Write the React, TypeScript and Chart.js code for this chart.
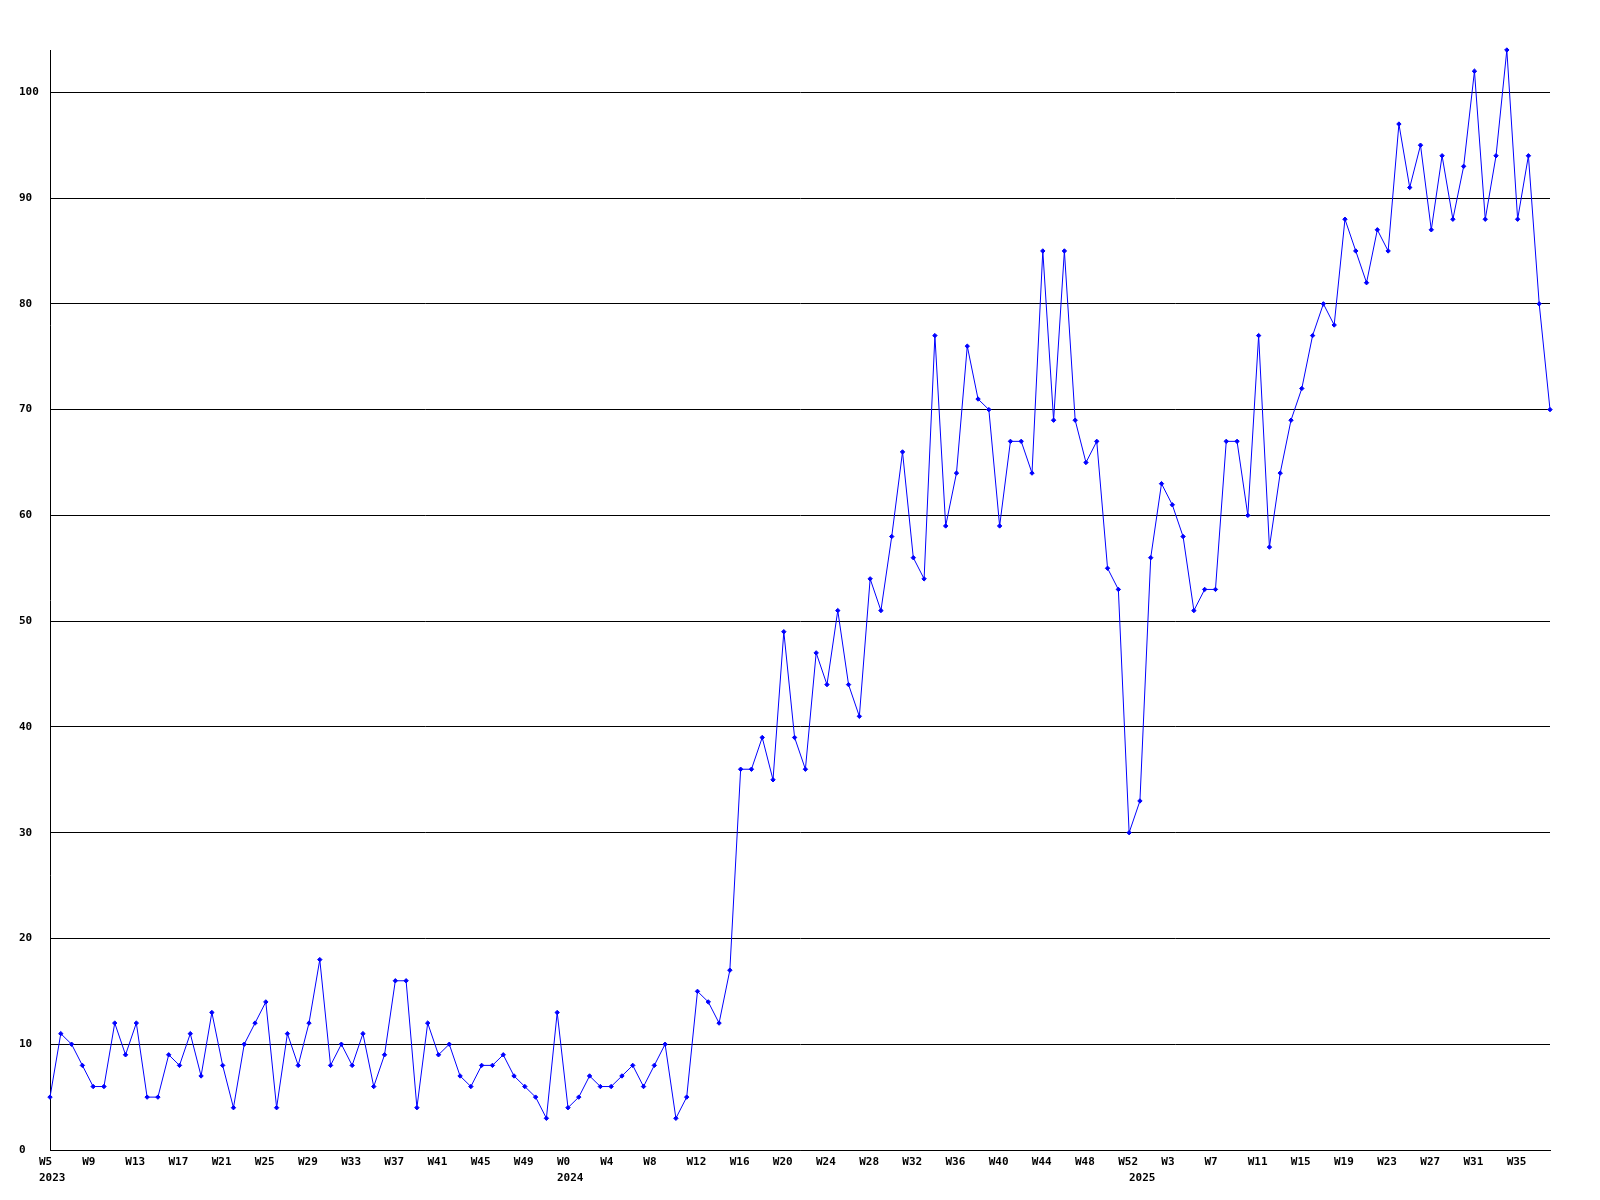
import React, { useEffect, useRef } from "react";
import { Chart, registerables } from "chart.js";

Chart.register(...registerables);

// Week ranges per year (first and last week number shown)
const years = [2023, 2024, 2025];
const firstWeek = [5, 0, 0];
const lastWeek = [52, 52, 38];

// Weekly values per year
const values2023 = [
  5, 11, 10, 8, 6, 6, 12, 9, 12, 5, 5, 9, 8, 11, 7, 13, 8, 4, 10, 12, 14, 4, 11, 8,
  12, 18, 8, 10, 8, 11, 6, 9, 16, 16, 4, 12, 9, 10, 7, 6, 8, 8, 9, 7, 6, 5, 3, 13,
];
const values2024 = [
  4, 5, 7, 6, 6, 7, 8, 6, 8, 10, 3, 5, 15, 14, 12, 17,
  36, 36, 39, 35, 49, 39, 36, 47, 44, 51, 44, 41, 54, 51, 58, 66, 56, 54,
  77, 59, 64, 76, 71, 70, 59, 67, 67, 64, 85, 69, 85, 69, 65, 67, 55, 53, 30,
];
const values2025 = [
  33, 56, 63, 61, 58, 51, 53, 53, 67, 67, 60, 77, 57, 64, 69, 72, 77, 80, 78, 88,
  85, 82, 87, 85, 97, 91, 95, 87, 94, 88, 93, 102, 88, 94, 104, 88, 94, 80, 70,
];

const yTicksStep = 10;
const yMax = 104;

const FONT = { family: "'DejaVu Sans Mono', 'Liberation Mono', monospace", size: 11, weight: "bold" as const, lineHeight: 1.45 };

export default function App() {
  const ref = useRef<HTMLCanvasElement | null>(null);

  useEffect(() => {
    if (!ref.current) return;
    const labels: string[] = [];
    const yearStart: Record<number, string> = {};
    years.forEach((y, k) => {
      yearStart[labels.length] = String(y);
      for (let w = firstWeek[k]; w <= lastWeek[k]; w++) labels.push("W" + w);
    });
    const data = [...values2023, ...values2024, ...values2025];

    const chart = new Chart(ref.current, {
      type: "line",
      data: {
        labels,
        datasets: [
          {
            data,
            borderColor: "#0000ff",
            backgroundColor: "#0000ff",
            borderWidth: 1,
            tension: 0,
            pointStyle: "rectRot",
            pointRadius: 2.2,
            pointBorderWidth: 1,
            pointBorderColor: "#0000ff",
            pointBackgroundColor: "#0000ff",
            clip: false,
          },
        ],
      },
      options: {
        animation: false,
        responsive: false,
        events: [],
        layout: { padding: { left: 19, right: 50, top: 50, bottom: 0 } },
        plugins: { legend: { display: false }, tooltip: { enabled: false }, title: { display: false } },
        scales: {
          x: {
            type: "category",
            offset: false,
            grid: { display: false },
            border: { display: true, color: "#000000", width: 1 },
            afterFit: (s: any) => {
              s.height = 50;
            },
            ticks: {
              autoSkip: false,
              maxRotation: 0,
              minRotation: 0,
              align: "start",
              labelOffset: -11,
              padding: -4,
              color: "#000000",
              font: FONT,
              callback: (_v: any, i: number) => {
                const yl = yearStart[i];
                if (i % 4 === 0) return yl ? [labels[i], yl] : labels[i];
                if (yl) return ["", yl];
                return null;
              },
            },
          },
          y: {
            min: 0,
            max: yMax,
            grid: { color: "#000000", lineWidth: 1, drawTicks: false },
            border: { display: true, color: "#000000", width: 1 },
            afterFit: (s: any) => {
              s.width = 31;
            },
            ticks: {
              stepSize: yTicksStep,
              includeBounds: false,
              crossAlign: "far",
              padding: 8,
              color: "#000000",
              font: FONT,
            },
          },
        },
      },
    });
    return () => chart.destroy();
  }, []);

  return (
    <div style={{ position: "absolute", left: 0, top: 0, width: 1600, height: 1200, background: "#ffffff" }}>
      <canvas ref={ref} width={1600} height={1200} style={{ width: 1600, height: 1200 }} />
    </div>
  );
}
